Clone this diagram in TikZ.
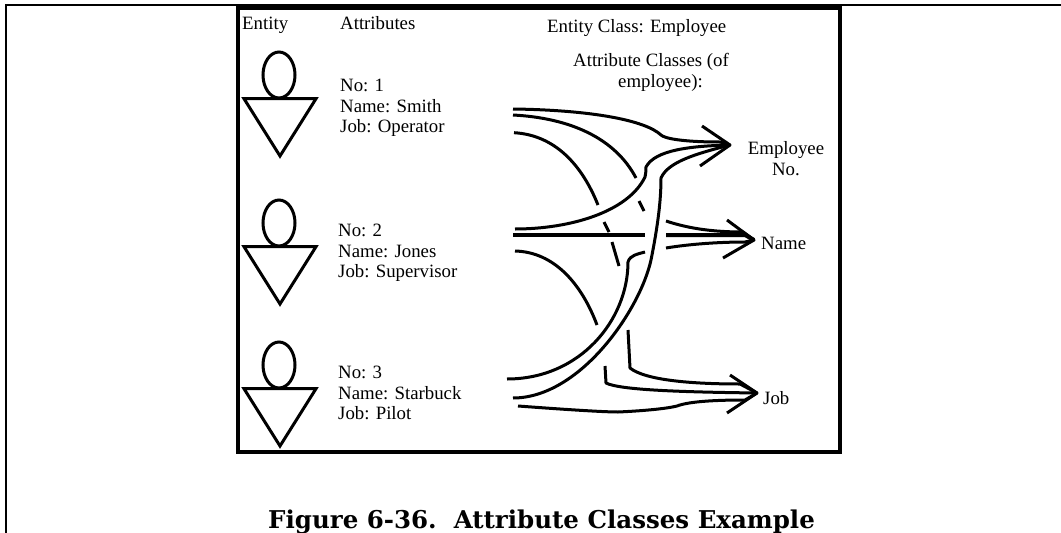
\documentclass[tikz,border=0pt]{standalone}
\usepackage{fontspec}
\setmainfont{Liberation Serif}
\newfontfamily\capfont{DejaVu Serif}
\tikzset{
  inkline/.style={line width=3pt,line join=round,line cap=butt},
  person/.style={line width=3pt,line join=miter},
  txt/.style={inner sep=0pt,anchor=base west,font=\fontsize{18.8}{20}\selectfont},
  txtc/.style={inner sep=0pt,anchor=base,font=\fontsize{18.8}{20}\selectfont}
}
\begin{document}
\begin{tikzpicture}[x=1pt,y=-1pt]
\useasboundingbox (0,0) rectangle (1061,533);
% page frame
\fill (5,4) rectangle (1061,6.3);
\fill (5,4) rectangle (7.3,533);
% box
\draw[line width=4pt] (238,8) rectangle (840,452);
% labels
\node[txt] (hEntity) at (242,29) {Entity};
\node[txt] (hAttr) at (340,29) {Attributes};
\node[txt] (hClass) at (547,32) {Entity Class: Employee};
\node[txt] (hAC1) at (573,66) {Attribute Classes (of};
\node[txt] (hAC2) at (618,87) {employee):};
% persons
\foreach \n/\dy in {a/0,b/148,c/290}{
  \begin{scope}[yshift=-\dy pt]
  \draw[person] (279,75) ellipse (16 and 23);
  \draw[person] (244,98.7) -- (316,98.7) -- (280,156) -- cycle;
  \end{scope}
}
\node[txt] (n1) at (340,91) {No: 1};
\node[txt] (m1) at (340,112.5) {Name: Smith};
\node[txt] (j1) at (340,132.5) {Job: Operator};
\node[txt] (n2) at (338,236) {No: 2};
\node[txt] (m2) at (338,257) {Name: Jones};
\node[txt] (j2) at (338,277) {Job: Supervisor};
\node[txt] (n3) at (338,378) {No: 3};
\node[txt] (m3) at (338,399) {Name: Starbuck};
\node[txt] (j3) at (338,419) {Job: Pilot};
\node[txtc] (t1a) at (786,154) {Employee};
\node[txtc] (t1b) at (786,175) {No.};
\node[txt] (t2) at (761,249) {Name};
\node[txt] (t3) at (763,404) {Job};
\coordinate (tipA) at (730,145);
\coordinate (tipB) at (754,240);
\coordinate (tipC) at (757,393);
% arrow heads
\draw[inkline] (702,126) -- (tipA) -- (700,166);
\draw[inkline] (727,220) -- (tipB) -- (723,258);
\draw[inkline] (730,375) -- (tipC) -- (727,413);
% to Employee No.
\draw[inkline] (513,109) .. controls (590,110) and (645,120) .. (661,135)
  .. controls (664,138) and (680,142) .. (720,142) -- (tipA);
\draw[inkline] (513,115) .. controls (570,118) and (615,138) .. (636,178);
\draw[inkline] (639,201) -- (644,211);
\draw[inkline] (514,132.7) .. controls (555,135) and (582,165) .. (598,205);
\draw[inkline] (604,222) -- (609,232);
\draw[inkline] (612,242) -- (619,266);
\draw[inkline] (515,229) .. controls (570,229) and (628,212) .. (645,177)
  .. controls (646,172) and (646,170) .. (646,167)
  .. controls (655,150) and (690,146) .. (tipA);
\draw[inkline] (513,398) .. controls (580,398) and (640,310) .. (651,260)
  .. controls (658,225) and (661,200) .. (661,178)
  .. controls (668,162) and (695,154) .. (tipA);
% to Name
\draw[line width=4pt] (513,235) -- (645,235);
\draw[line width=4pt] (666,235) -- (745,235) -- (tipB);
\draw[inkline] (666,221) .. controls (690,229) and (715,232) .. (743,232) -- (tipB);
\draw[inkline] (507,379) .. controls (580,379) and (628,320) .. (628,262)
  .. controls (630,255) and (638,254) .. (645,252);
\draw[inkline] (666,248) .. controls (690,244) and (720,242) .. (745,242) -- (tipB);
% to Job
\draw[inkline] (515,251) .. controls (555,252) and (582,285) .. (597,325);
\draw[inkline] (605,366) -- (606,383) .. controls (620,390) and (680,392) .. (tipC);
\draw[inkline] (628,330) -- (630,368) .. controls (645,380) and (690,384) .. (740,384) -- (tipC);
\draw[inkline] (518,406) .. controls (545,408) and (600,412) .. (618,412)
  .. controls (640,411) and (665,409) .. (677,406)
  .. controls (690,401) and (720,400) .. (745,400) -- (tipC);
% caption
\node[inner sep=0pt,anchor=base west] (cap) at (268,528) {\capfont\bfseries\fontsize{24.5}{26}\selectfont Figure 6-36.\ \ Attribute Classes Example};
\end{tikzpicture}
\end{document}
